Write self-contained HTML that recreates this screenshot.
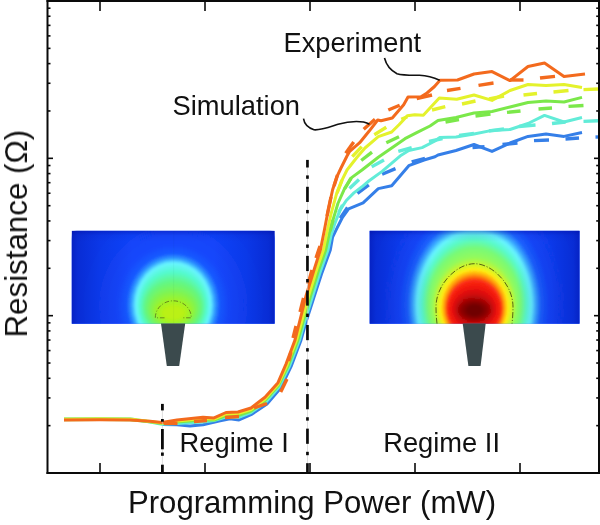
<!DOCTYPE html>
<html><head><meta charset="utf-8"><title>Resistance vs Programming Power</title>
<style>
html,body{margin:0;padding:0;background:#fff;}
body{width:600px;height:525px;overflow:hidden;font-family:"Liberation Sans",sans-serif;}
svg{display:block}
text{font-family:"Liberation Sans",sans-serif;fill:#111;}
</style></head><body>
<svg width="600" height="525" viewBox="0 0 600 525">
<defs>
<clipPath id="cl"><rect x="71.7" y="230.7" width="203" height="93.1"/></clipPath>
<clipPath id="cr"><rect x="369.6" y="230.7" width="210" height="93.1"/></clipPath>
<filter id="bl" x="-20%" y="-20%" width="140%" height="140%"><feGaussianBlur stdDeviation="1.1"/></filter>
<linearGradient id="ovh" x1="0" x2="1" y1="0" y2="0">
<stop offset="0" stop-color="#000a9a" stop-opacity="0.55"/><stop offset="0.03" stop-color="#000a9a" stop-opacity="0.36"/><stop offset="0.14" stop-color="#000a9a" stop-opacity="0.16"/><stop offset="0.3" stop-color="#000a9a" stop-opacity="0"/>
<stop offset="0.7" stop-color="#000a9a" stop-opacity="0"/><stop offset="0.86" stop-color="#000a9a" stop-opacity="0.16"/><stop offset="0.97" stop-color="#000a9a" stop-opacity="0.36"/><stop offset="1" stop-color="#000a9a" stop-opacity="0.55"/></linearGradient>
<linearGradient id="ovv" x1="0" x2="0" y1="0" y2="1">
<stop offset="0" stop-color="#000a9a" stop-opacity="0.4"/><stop offset="0.05" stop-color="#000a9a" stop-opacity="0.08"/><stop offset="0.12" stop-color="#000a9a" stop-opacity="0"/><stop offset="1" stop-color="#000a9a" stop-opacity="0"/></linearGradient>
</defs>
<rect width="600" height="525" fill="#fff"/>
<!-- insets -->
<g clip-path="url(#cl)"><rect x="71.7" y="230.7" width="203" height="93.1" fill="#1040f4"/>
<g filter="url(#bl)"><ellipse cx="173.30" cy="305.00" rx="120.00" ry="130.00" fill="#1040f4"/><ellipse cx="173.30" cy="305.00" rx="115.00" ry="124.50" fill="#1040f4"/><ellipse cx="173.30" cy="305.00" rx="110.00" ry="119.00" fill="#1040f5"/><ellipse cx="173.30" cy="305.00" rx="105.00" ry="113.50" fill="#1041f6"/><ellipse cx="173.30" cy="305.00" rx="100.00" ry="108.00" fill="#1041f6"/><ellipse cx="173.30" cy="305.00" rx="95.00" ry="102.50" fill="#1141f6"/><ellipse cx="173.30" cy="305.00" rx="90.00" ry="97.00" fill="#1142f7"/><ellipse cx="173.30" cy="305.00" rx="85.00" ry="91.50" fill="#1142f8"/><ellipse cx="173.30" cy="305.00" rx="80.00" ry="86.00" fill="#1142f8"/><ellipse cx="173.30" cy="305.00" rx="77.25" ry="83.00" fill="#1143f8"/><ellipse cx="173.30" cy="305.00" rx="74.50" ry="80.00" fill="#1244f9"/><ellipse cx="173.30" cy="305.00" rx="71.75" ry="77.00" fill="#1244fa"/><ellipse cx="173.30" cy="305.00" rx="69.00" ry="74.00" fill="#1245fa"/><ellipse cx="173.30" cy="305.00" rx="66.25" ry="71.00" fill="#1346fa"/><ellipse cx="173.30" cy="305.00" rx="63.50" ry="68.00" fill="#1346fb"/><ellipse cx="173.30" cy="305.00" rx="60.75" ry="65.00" fill="#1447fc"/><ellipse cx="173.30" cy="305.00" rx="58.00" ry="62.00" fill="#1448fc"/><ellipse cx="173.30" cy="305.00" rx="56.62" ry="60.75" fill="#154afc"/><ellipse cx="173.30" cy="305.00" rx="55.25" ry="59.50" fill="#164cfd"/><ellipse cx="173.30" cy="305.00" rx="53.88" ry="58.25" fill="#164ffd"/><ellipse cx="173.30" cy="305.00" rx="52.50" ry="57.00" fill="#1751fe"/><ellipse cx="173.30" cy="305.00" rx="51.12" ry="55.75" fill="#1853fe"/><ellipse cx="173.30" cy="305.00" rx="49.75" ry="54.50" fill="#1856fe"/><ellipse cx="173.30" cy="305.00" rx="48.38" ry="53.25" fill="#1958ff"/><ellipse cx="173.30" cy="305.00" rx="47.00" ry="52.00" fill="#1a5aff"/><ellipse cx="173.30" cy="305.00" rx="46.38" ry="51.31" fill="#1d63ff"/><ellipse cx="173.30" cy="305.00" rx="45.75" ry="50.62" fill="#206cff"/><ellipse cx="173.30" cy="305.00" rx="45.12" ry="49.94" fill="#2374ff"/><ellipse cx="173.30" cy="305.00" rx="44.50" ry="49.25" fill="#267dff"/><ellipse cx="173.30" cy="305.00" rx="43.88" ry="48.56" fill="#2986ff"/><ellipse cx="173.30" cy="305.00" rx="43.25" ry="47.88" fill="#2c8eff"/><ellipse cx="173.30" cy="305.00" rx="42.62" ry="47.19" fill="#2f97ff"/><ellipse cx="173.30" cy="305.00" rx="42.00" ry="46.50" fill="#32a0ff"/><ellipse cx="173.30" cy="305.00" rx="41.45" ry="45.98" fill="#39abff"/><ellipse cx="173.30" cy="305.00" rx="40.90" ry="45.45" fill="#40b5ff"/><ellipse cx="173.30" cy="305.00" rx="40.35" ry="44.92" fill="#47c0ff"/><ellipse cx="173.30" cy="305.00" rx="39.80" ry="44.40" fill="#4ecaff"/><ellipse cx="173.30" cy="305.00" rx="39.25" ry="43.88" fill="#54d5ff"/><ellipse cx="173.30" cy="305.00" rx="38.70" ry="43.35" fill="#5be0ff"/><ellipse cx="173.30" cy="305.00" rx="38.15" ry="42.82" fill="#62eaff"/><ellipse cx="173.30" cy="305.00" rx="37.60" ry="42.30" fill="#69f5ff"/><ellipse cx="173.30" cy="305.12" rx="37.09" ry="41.39" fill="#66f6f9"/><ellipse cx="173.30" cy="305.25" rx="36.58" ry="40.47" fill="#64f6f2"/><ellipse cx="173.30" cy="305.38" rx="36.06" ry="39.56" fill="#62f7ec"/><ellipse cx="173.30" cy="305.50" rx="35.55" ry="38.65" fill="#5ff8e6"/><ellipse cx="173.30" cy="305.62" rx="35.04" ry="37.74" fill="#5cf8e0"/><ellipse cx="173.30" cy="305.75" rx="34.52" ry="36.83" fill="#5af9da"/><ellipse cx="173.30" cy="305.88" rx="34.01" ry="35.91" fill="#58f9d3"/><ellipse cx="173.30" cy="306.00" rx="33.50" ry="35.00" fill="#55facd"/><ellipse cx="173.30" cy="306.19" rx="32.88" ry="33.88" fill="#57fac4"/><ellipse cx="173.30" cy="306.38" rx="32.25" ry="32.75" fill="#59f9ba"/><ellipse cx="173.30" cy="306.56" rx="31.62" ry="31.62" fill="#5bf9b1"/><ellipse cx="173.30" cy="306.75" rx="31.00" ry="30.50" fill="#5cf8a8"/><ellipse cx="173.30" cy="306.94" rx="30.38" ry="29.38" fill="#5ef89e"/><ellipse cx="173.30" cy="307.12" rx="29.75" ry="28.25" fill="#60f895"/><ellipse cx="173.30" cy="307.31" rx="29.12" ry="27.12" fill="#62f78b"/><ellipse cx="173.30" cy="307.50" rx="28.50" ry="26.00" fill="#64f782"/><ellipse cx="173.30" cy="307.75" rx="27.81" ry="25.00" fill="#68f77c"/><ellipse cx="173.30" cy="308.00" rx="27.12" ry="24.00" fill="#6bf676"/><ellipse cx="173.30" cy="308.25" rx="26.44" ry="23.00" fill="#6ef670"/><ellipse cx="173.30" cy="308.50" rx="25.75" ry="22.00" fill="#72f66a"/><ellipse cx="173.30" cy="308.75" rx="25.06" ry="21.00" fill="#76f564"/><ellipse cx="173.30" cy="309.00" rx="24.38" ry="20.00" fill="#79f55e"/><ellipse cx="173.30" cy="309.25" rx="23.69" ry="19.00" fill="#7cf458"/><ellipse cx="173.30" cy="309.50" rx="23.00" ry="18.00" fill="#80f452"/><ellipse cx="173.30" cy="309.75" rx="22.25" ry="17.19" fill="#84f44d"/><ellipse cx="173.30" cy="310.00" rx="21.50" ry="16.38" fill="#88f448"/><ellipse cx="173.30" cy="310.25" rx="20.75" ry="15.56" fill="#8cf442"/><ellipse cx="173.30" cy="310.50" rx="20.00" ry="14.75" fill="#90f43d"/><ellipse cx="173.30" cy="310.75" rx="19.25" ry="13.94" fill="#94f338"/><ellipse cx="173.30" cy="311.00" rx="18.50" ry="13.12" fill="#98f332"/><ellipse cx="173.30" cy="311.25" rx="17.75" ry="12.31" fill="#9cf32d"/><ellipse cx="173.30" cy="311.50" rx="17.00" ry="11.50" fill="#a0f328"/><ellipse cx="173.30" cy="311.69" rx="16.12" ry="10.81" fill="#a3f326"/><ellipse cx="173.30" cy="311.88" rx="15.25" ry="10.12" fill="#a6f224"/><ellipse cx="173.30" cy="312.06" rx="14.38" ry="9.44" fill="#aaf221"/><ellipse cx="173.30" cy="312.25" rx="13.50" ry="8.75" fill="#adf21f"/><ellipse cx="173.30" cy="312.44" rx="12.62" ry="8.06" fill="#b0f21d"/><ellipse cx="173.30" cy="312.62" rx="11.75" ry="7.38" fill="#b4f21a"/><ellipse cx="173.30" cy="312.81" rx="10.88" ry="6.69" fill="#b7f118"/><ellipse cx="173.30" cy="313.00" rx="10.00" ry="6.00" fill="#baf116"/></g>
<rect x="71.7" y="230.7" width="203" height="93.1" fill="url(#ovh)"/><rect x="71.7" y="230.7" width="203" height="93.1" fill="url(#ovv)"/>
<line x1="173.6" x2="173.6" y1="230.7" y2="323.8" stroke="#204060" stroke-opacity="0.08" stroke-width="0.6"/>
<path d="M164.5 317.8 L155.3 317.8 A18 17 0 0 1 191.3 317.8 L182 317.8" fill="none" stroke="#56661a" stroke-width="0.75" stroke-dasharray="4.6 1.8 1 1.8"/>
</g>
<g clip-path="url(#cr)"><rect x="369.6" y="230.7" width="210" height="93.1" fill="#1040f4"/>
<g filter="url(#bl)"><ellipse cx="474.30" cy="305.00" rx="140.00" ry="170.00" fill="#1040f4"/><ellipse cx="474.30" cy="305.00" rx="134.38" ry="163.75" fill="#1040f4"/><ellipse cx="474.30" cy="305.00" rx="128.75" ry="157.50" fill="#1040f5"/><ellipse cx="474.30" cy="305.00" rx="123.12" ry="151.25" fill="#1041f6"/><ellipse cx="474.30" cy="305.00" rx="117.50" ry="145.00" fill="#1041f6"/><ellipse cx="474.30" cy="305.00" rx="111.88" ry="138.75" fill="#1141f6"/><ellipse cx="474.30" cy="305.00" rx="106.25" ry="132.50" fill="#1142f7"/><ellipse cx="474.30" cy="305.00" rx="100.62" ry="126.25" fill="#1142f8"/><ellipse cx="474.30" cy="305.00" rx="95.00" ry="120.00" fill="#1142f8"/><ellipse cx="474.30" cy="305.00" rx="92.62" ry="117.50" fill="#1143f9"/><ellipse cx="474.30" cy="305.00" rx="90.25" ry="115.00" fill="#1244f9"/><ellipse cx="474.30" cy="305.00" rx="87.88" ry="112.50" fill="#1245fa"/><ellipse cx="474.30" cy="305.00" rx="85.50" ry="110.00" fill="#1246fa"/><ellipse cx="474.30" cy="305.00" rx="83.12" ry="107.50" fill="#1347fb"/><ellipse cx="474.30" cy="305.00" rx="80.75" ry="105.00" fill="#1348fc"/><ellipse cx="474.30" cy="305.00" rx="78.38" ry="102.50" fill="#1449fc"/><ellipse cx="474.30" cy="305.00" rx="76.00" ry="100.00" fill="#144afd"/><ellipse cx="474.30" cy="305.00" rx="74.88" ry="98.38" fill="#154dfd"/><ellipse cx="474.30" cy="305.00" rx="73.75" ry="96.75" fill="#1650fe"/><ellipse cx="474.30" cy="305.00" rx="72.62" ry="95.12" fill="#1854fe"/><ellipse cx="474.30" cy="305.00" rx="71.50" ry="93.50" fill="#1957fe"/><ellipse cx="474.30" cy="305.00" rx="70.38" ry="91.88" fill="#1a5afe"/><ellipse cx="474.30" cy="305.00" rx="69.25" ry="90.25" fill="#1c5efe"/><ellipse cx="474.30" cy="305.00" rx="68.12" ry="88.62" fill="#1d61ff"/><ellipse cx="474.30" cy="305.00" rx="67.00" ry="87.00" fill="#1e64ff"/><ellipse cx="474.30" cy="305.00" rx="66.38" ry="86.12" fill="#226dff"/><ellipse cx="474.30" cy="305.00" rx="65.75" ry="85.25" fill="#2676ff"/><ellipse cx="474.30" cy="305.00" rx="65.12" ry="84.38" fill="#297eff"/><ellipse cx="474.30" cy="305.00" rx="64.50" ry="83.50" fill="#2d87ff"/><ellipse cx="474.30" cy="305.00" rx="63.88" ry="82.62" fill="#3190ff"/><ellipse cx="474.30" cy="305.00" rx="63.25" ry="81.75" fill="#3498ff"/><ellipse cx="474.30" cy="305.00" rx="62.62" ry="80.88" fill="#38a1ff"/><ellipse cx="474.30" cy="305.00" rx="62.00" ry="80.00" fill="#3caaff"/><ellipse cx="474.30" cy="305.00" rx="61.44" ry="79.25" fill="#42b3ff"/><ellipse cx="474.30" cy="305.00" rx="60.88" ry="78.50" fill="#47bdff"/><ellipse cx="474.30" cy="305.00" rx="60.31" ry="77.75" fill="#4dc6ff"/><ellipse cx="474.30" cy="305.00" rx="59.75" ry="77.00" fill="#52d0ff"/><ellipse cx="474.30" cy="305.00" rx="59.19" ry="76.25" fill="#58d9ff"/><ellipse cx="474.30" cy="305.00" rx="58.62" ry="75.50" fill="#5ee2ff"/><ellipse cx="474.30" cy="305.00" rx="58.06" ry="74.75" fill="#63ecff"/><ellipse cx="474.30" cy="305.00" rx="57.50" ry="74.00" fill="#69f5ff"/><ellipse cx="474.30" cy="305.00" rx="56.88" ry="73.00" fill="#67f6f8"/><ellipse cx="474.30" cy="305.00" rx="56.25" ry="72.00" fill="#65f6f1"/><ellipse cx="474.30" cy="305.00" rx="55.62" ry="71.00" fill="#63f7ea"/><ellipse cx="474.30" cy="305.00" rx="55.00" ry="70.00" fill="#62f8e4"/><ellipse cx="474.30" cy="305.00" rx="54.38" ry="69.00" fill="#60f8dd"/><ellipse cx="474.30" cy="305.00" rx="53.75" ry="68.00" fill="#5ef9d6"/><ellipse cx="474.30" cy="305.00" rx="53.12" ry="67.00" fill="#5cf9cf"/><ellipse cx="474.30" cy="305.00" rx="52.50" ry="66.00" fill="#5afac8"/><ellipse cx="474.30" cy="305.00" rx="51.81" ry="64.94" fill="#5efabe"/><ellipse cx="474.30" cy="305.00" rx="51.12" ry="63.88" fill="#62fab4"/><ellipse cx="474.30" cy="305.00" rx="50.44" ry="62.81" fill="#65faaa"/><ellipse cx="474.30" cy="305.00" rx="49.75" ry="61.75" fill="#69faa0"/><ellipse cx="474.30" cy="305.00" rx="49.06" ry="60.69" fill="#6dfa96"/><ellipse cx="474.30" cy="305.00" rx="48.38" ry="59.62" fill="#70fa8c"/><ellipse cx="474.30" cy="305.00" rx="47.69" ry="58.56" fill="#74fa82"/><ellipse cx="474.30" cy="305.00" rx="47.00" ry="57.50" fill="#78fa78"/><ellipse cx="474.30" cy="305.06" rx="46.38" ry="56.31" fill="#7cfa74"/><ellipse cx="474.30" cy="305.12" rx="45.75" ry="55.12" fill="#80fa70"/><ellipse cx="474.30" cy="305.19" rx="45.12" ry="53.94" fill="#83fa6d"/><ellipse cx="474.30" cy="305.25" rx="44.50" ry="52.75" fill="#87fa69"/><ellipse cx="474.30" cy="305.31" rx="43.88" ry="51.56" fill="#8bfa65"/><ellipse cx="474.30" cy="305.38" rx="43.25" ry="50.38" fill="#8efa62"/><ellipse cx="474.30" cy="305.44" rx="42.62" ry="49.19" fill="#92fa5e"/><ellipse cx="474.30" cy="305.50" rx="42.00" ry="48.00" fill="#96fa5a"/><ellipse cx="474.30" cy="305.56" rx="41.56" ry="47.29" fill="#9cf955"/><ellipse cx="474.30" cy="305.62" rx="41.12" ry="46.58" fill="#a2f950"/><ellipse cx="474.30" cy="305.69" rx="40.69" ry="45.86" fill="#a9f84b"/><ellipse cx="474.30" cy="305.75" rx="40.25" ry="45.15" fill="#aff846"/><ellipse cx="474.30" cy="305.81" rx="39.81" ry="44.44" fill="#b5f741"/><ellipse cx="474.30" cy="305.88" rx="39.38" ry="43.72" fill="#bcf63c"/><ellipse cx="474.30" cy="305.94" rx="38.94" ry="43.01" fill="#c2f637"/><ellipse cx="474.30" cy="306.00" rx="38.50" ry="42.30" fill="#c8f532"/><ellipse cx="474.30" cy="306.12" rx="37.94" ry="41.76" fill="#cff42e"/><ellipse cx="474.30" cy="306.25" rx="37.38" ry="41.22" fill="#d6f42a"/><ellipse cx="474.30" cy="306.38" rx="36.81" ry="40.69" fill="#ddf327"/><ellipse cx="474.30" cy="306.50" rx="36.25" ry="40.15" fill="#e4f223"/><ellipse cx="474.30" cy="306.62" rx="35.69" ry="39.61" fill="#eaf21f"/><ellipse cx="474.30" cy="306.75" rx="35.12" ry="39.08" fill="#f1f11c"/><ellipse cx="474.30" cy="306.88" rx="34.56" ry="38.54" fill="#f8f118"/><ellipse cx="474.30" cy="307.00" rx="34.00" ry="38.00" fill="#fff014"/><ellipse cx="474.30" cy="307.12" rx="33.50" ry="37.44" fill="#ffe513"/><ellipse cx="474.30" cy="307.25" rx="33.00" ry="36.88" fill="#ffda13"/><ellipse cx="474.30" cy="307.38" rx="32.50" ry="36.31" fill="#ffce12"/><ellipse cx="474.30" cy="307.50" rx="32.00" ry="35.75" fill="#ffc312"/><ellipse cx="474.30" cy="307.62" rx="31.50" ry="35.19" fill="#ffb811"/><ellipse cx="474.30" cy="307.75" rx="31.00" ry="34.62" fill="#ffac10"/><ellipse cx="474.30" cy="307.88" rx="30.50" ry="34.06" fill="#ffa110"/><ellipse cx="474.30" cy="308.00" rx="30.00" ry="33.50" fill="#ff960f"/><ellipse cx="474.30" cy="308.06" rx="29.62" ry="32.88" fill="#ff8910"/><ellipse cx="474.30" cy="308.12" rx="29.25" ry="32.25" fill="#fe7c10"/><ellipse cx="474.30" cy="308.19" rx="28.88" ry="31.62" fill="#fe6f11"/><ellipse cx="474.30" cy="308.25" rx="28.50" ry="31.00" fill="#fe6212"/><ellipse cx="474.30" cy="308.31" rx="28.12" ry="30.38" fill="#fd5412"/><ellipse cx="474.30" cy="308.38" rx="27.75" ry="29.75" fill="#fd4713"/><ellipse cx="474.30" cy="308.44" rx="27.38" ry="29.12" fill="#fc3a13"/><ellipse cx="474.30" cy="308.50" rx="27.00" ry="28.50" fill="#fc2d14"/><ellipse cx="474.30" cy="308.56" rx="26.56" ry="27.75" fill="#fa2a13"/><ellipse cx="474.30" cy="308.62" rx="26.12" ry="27.00" fill="#f92713"/><ellipse cx="474.30" cy="308.69" rx="25.69" ry="26.25" fill="#f82412"/><ellipse cx="474.30" cy="308.75" rx="25.25" ry="25.50" fill="#f62212"/><ellipse cx="474.30" cy="308.81" rx="24.81" ry="24.75" fill="#f41f11"/><ellipse cx="474.30" cy="308.88" rx="24.38" ry="24.00" fill="#f31c10"/><ellipse cx="474.30" cy="308.94" rx="23.94" ry="23.25" fill="#f21910"/><ellipse cx="474.30" cy="309.00" rx="23.50" ry="22.50" fill="#f0160f"/><ellipse cx="474.30" cy="309.06" rx="22.94" ry="21.56" fill="#ec140e"/><ellipse cx="474.30" cy="309.12" rx="22.38" ry="20.62" fill="#e7130e"/><ellipse cx="474.30" cy="309.19" rx="21.81" ry="19.69" fill="#e3120d"/><ellipse cx="474.30" cy="309.25" rx="21.25" ry="18.75" fill="#de100c"/><ellipse cx="474.30" cy="309.31" rx="20.69" ry="17.81" fill="#da0e0c"/><ellipse cx="474.30" cy="309.38" rx="20.12" ry="16.88" fill="#d60d0b"/><ellipse cx="474.30" cy="309.44" rx="19.56" ry="15.94" fill="#d10c0b"/><ellipse cx="474.30" cy="309.50" rx="19.00" ry="15.00" fill="#cd0a0a"/><ellipse cx="474.30" cy="309.56" rx="18.44" ry="14.31" fill="#c60909"/><ellipse cx="474.30" cy="309.62" rx="17.88" ry="13.62" fill="#bf0909"/><ellipse cx="474.30" cy="309.69" rx="17.31" ry="12.94" fill="#b80808"/><ellipse cx="474.30" cy="309.75" rx="16.75" ry="12.25" fill="#b20808"/><ellipse cx="474.30" cy="309.81" rx="16.19" ry="11.56" fill="#ab0707"/><ellipse cx="474.30" cy="309.88" rx="15.62" ry="10.88" fill="#a40606"/><ellipse cx="474.30" cy="309.94" rx="15.06" ry="10.19" fill="#9d0606"/><ellipse cx="474.30" cy="310.00" rx="14.50" ry="9.50" fill="#960505"/><ellipse cx="474.30" cy="310.04" rx="13.56" ry="8.94" fill="#910404"/><ellipse cx="474.30" cy="310.07" rx="12.62" ry="8.38" fill="#8c0404"/><ellipse cx="474.30" cy="310.11" rx="11.69" ry="7.81" fill="#880303"/><ellipse cx="474.30" cy="310.15" rx="10.75" ry="7.25" fill="#830202"/><ellipse cx="474.30" cy="310.19" rx="9.81" ry="6.69" fill="#7e0202"/><ellipse cx="474.30" cy="310.23" rx="8.88" ry="6.12" fill="#7a0101"/><ellipse cx="474.30" cy="310.26" rx="7.94" ry="5.56" fill="#750101"/><ellipse cx="474.30" cy="310.30" rx="7.00" ry="5.00" fill="#700000"/></g>
<rect x="369.6" y="230.7" width="210" height="93.1" fill="url(#ovh)"/><rect x="369.6" y="230.7" width="210" height="93.1" fill="url(#ovv)"/>
<path d="M437 323.8 C436.3 318 436 312 436 307 C436 284 457 263.7 474.5 263.7 C492 263.7 513 284 513 307 C513 312 512.7 318 512 323.8" fill="none" stroke="#4a5210" stroke-width="0.9" stroke-dasharray="6 1.8 1 1.8"/>
</g>
<polygon points="161,323.6 185.2,323.6 179.2,365.9 166.8,365.9" fill="#3b4a4d"/>
<polygon points="462.7,323.6 485.7,323.6 480.6,365.9 468.4,365.9" fill="#3b4a4d"/>
<!-- curves -->
<polyline points="162.0,424.5 177.0,424.8 190.0,426.0 203.0,424.8 219.0,421.0 230.0,418.7 239.0,420.0 251.0,414.7 267.0,404.0 280.7,388.0 291.0,366.7 300.7,341.0 306.0,322.0 313.7,298.0 321.5,274.0 330.3,250.0 332.6,237.1 337.1,227.9 342.5,217.3 348.6,208.9 363.1,202.9 378.3,188.6 391.7,185.7 408.8,165.7 424.0,160.0 435.0,156.8 438.0,155.0 456.0,150.5 474.0,144.5 492.0,151.4 510.0,143.0 528.0,136.4 546.0,134.0 564.0,136.4 582.0,132.5" fill="none" stroke="#357fe8" stroke-width="3" stroke-linejoin="round" stroke-linecap="butt"/>
<line x1="340.2" y1="218.1" x2="347.5" y2="207.5" stroke="#357fe8" stroke-width="3.4"/>
<line x1="357.4" y1="193.3" x2="368.8" y2="184.8" stroke="#357fe8" stroke-width="3.4"/>
<line x1="382.1" y1="174.3" x2="395.5" y2="168.6" stroke="#357fe8" stroke-width="3.4"/>
<line x1="411.7" y1="161.9" x2="425.0" y2="158.5" stroke="#357fe8" stroke-width="3.4"/>
<line x1="472.5" y1="147.5" x2="484.5" y2="146.6" stroke="#357fe8" stroke-width="3.4"/>
<line x1="502.5" y1="144.5" x2="517.5" y2="143.0" stroke="#357fe8" stroke-width="3.4"/>
<line x1="534.0" y1="140.6" x2="549.0" y2="140.0" stroke="#357fe8" stroke-width="3.4"/>
<line x1="565.5" y1="139.0" x2="579.0" y2="138.0" stroke="#357fe8" stroke-width="3.4"/>
<line x1="595.5" y1="137.0" x2="598.0" y2="137.0" stroke="#357fe8" stroke-width="3.4"/>
<polyline points="64.0,418.8 100.0,418.6 130.0,418.8 150.0,422.0 162.0,424.3 177.0,423.5 203.0,422.0 214.0,420.5 226.0,417.0 238.0,417.5 251.0,412.5 266.0,402.0 279.0,387.0 289.5,366.0 299.5,340.0 304.5,322.0 312.0,298.0 319.5,274.0 328.0,250.0 331.0,235.5 334.9,223.4 340.2,209.6 346.3,200.5 353.9,192.9 362.0,186.8 368.8,181.0 382.1,171.4 401.2,155.2 408.8,150.5 422.1,147.6 435.0,141.0 439.5,137.6 456.0,137.0 474.0,134.0 492.0,130.4 510.0,129.5 528.0,123.5 544.5,115.4 564.0,122.0 582.0,117.5" fill="none" stroke="#62ecd8" stroke-width="3" stroke-linejoin="round" stroke-linecap="butt"/>
<line x1="338.7" y1="212.7" x2="342.5" y2="205.0" stroke="#62ecd8" stroke-width="3.4"/>
<line x1="349.5" y1="188.6" x2="359.0" y2="179.5" stroke="#62ecd8" stroke-width="3.4"/>
<line x1="371.7" y1="166.7" x2="384.0" y2="160.0" stroke="#62ecd8" stroke-width="3.4"/>
<line x1="398.3" y1="151.4" x2="411.7" y2="147.6" stroke="#62ecd8" stroke-width="3.4"/>
<line x1="429.0" y1="141.5" x2="442.5" y2="138.5" stroke="#62ecd8" stroke-width="3.4"/>
<line x1="459.0" y1="135.5" x2="474.0" y2="133.4" stroke="#62ecd8" stroke-width="3.4"/>
<line x1="489.0" y1="131.0" x2="504.0" y2="129.0" stroke="#62ecd8" stroke-width="3.4"/>
<line x1="519.0" y1="126.5" x2="535.5" y2="125.0" stroke="#62ecd8" stroke-width="3.4"/>
<line x1="552.0" y1="123.5" x2="565.5" y2="122.0" stroke="#62ecd8" stroke-width="3.4"/>
<line x1="583.5" y1="121.4" x2="598.0" y2="120.8" stroke="#62ecd8" stroke-width="3.4"/>
<polyline points="64.0,419.8 100.0,419.6 130.0,419.8 150.0,421.8 162.0,423.5 177.0,422.0 203.0,420.0 214.0,420.0 226.0,415.5 238.0,415.5 251.0,411.0 265.0,400.5 278.0,386.0 288.0,366.0 298.0,340.0 303.0,322.0 310.5,296.0 318.0,272.0 325.7,250.0 329.5,232.5 333.3,218.8 337.9,203.5 344.0,189.8 351.6,177.6 362.0,170.0 378.3,157.3 391.7,148.0 405.0,138.7 416.7,132.7 430.0,126.0 438.0,120.5 456.0,117.5 474.0,113.0 492.0,111.5 510.0,107.0 528.0,102.5 546.0,101.0 564.0,102.0 582.0,97.4" fill="none" stroke="#7be84a" stroke-width="3" stroke-linejoin="round" stroke-linecap="butt"/>
<line x1="344.5" y1="189.0" x2="351.0" y2="178.0" stroke="#7be84a" stroke-width="3.4"/>
<line x1="330.0" y1="231.0" x2="333.0" y2="220.0" stroke="#7be84a" stroke-width="3.4"/>
<line x1="361.2" y1="160.5" x2="372.0" y2="152.2" stroke="#7be84a" stroke-width="3.4"/>
<line x1="386.3" y1="142.7" x2="399.0" y2="136.7" stroke="#7be84a" stroke-width="3.4"/>
<line x1="445.5" y1="122.0" x2="459.0" y2="119.6" stroke="#7be84a" stroke-width="3.4"/>
<line x1="475.5" y1="116.0" x2="490.5" y2="114.0" stroke="#7be84a" stroke-width="3.4"/>
<line x1="507.0" y1="112.4" x2="520.5" y2="111.0" stroke="#7be84a" stroke-width="3.4"/>
<line x1="538.5" y1="109.0" x2="552.0" y2="108.0" stroke="#7be84a" stroke-width="3.4"/>
<line x1="568.5" y1="106.4" x2="583.5" y2="105.5" stroke="#7be84a" stroke-width="3.4"/>
<polyline points="64.0,419.0 100.0,418.8 130.0,419.0 150.0,421.5 162.0,423.0 177.0,421.0 203.0,418.5 214.0,419.0 226.0,414.0 238.0,413.5 251.0,409.5 265.0,399.0 278.0,384.5 287.0,365.0 296.5,340.0 301.5,322.0 308.5,296.0 316.5,270.0 323.4,250.0 327.2,231.0 331.0,214.2 336.4,194.4 342.5,179.1 347.0,170.0 357.0,157.3 365.0,148.0 378.3,136.7 391.7,132.0 399.0,124.7 403.0,120.5 407.3,115.8 414.7,114.7 423.3,115.3 430.0,108.0 439.3,98.0 456.7,99.3 474.0,95.0 492.0,100.4 510.0,90.5 528.0,84.5 546.0,85.4 564.0,84.5 582.0,87.5" fill="none" stroke="#e4f22c" stroke-width="3" stroke-linejoin="round" stroke-linecap="butt"/>
<line x1="337.0" y1="193.0" x2="342.0" y2="180.0" stroke="#e4f22c" stroke-width="3.4"/>
<line x1="352.3" y1="156.7" x2="361.7" y2="146.7" stroke="#e4f22c" stroke-width="3.4"/>
<line x1="374.3" y1="134.7" x2="386.3" y2="127.3" stroke="#e4f22c" stroke-width="3.4"/>
<line x1="401.3" y1="119.3" x2="407.3" y2="116.7" stroke="#e4f22c" stroke-width="3.4"/>
<line x1="432.0" y1="110.0" x2="445.3" y2="106.7" stroke="#e4f22c" stroke-width="3.4"/>
<line x1="462.0" y1="104.0" x2="475.5" y2="101.0" stroke="#e4f22c" stroke-width="3.4"/>
<line x1="489.0" y1="99.0" x2="504.0" y2="96.0" stroke="#e4f22c" stroke-width="3.4"/>
<line x1="523.5" y1="95.0" x2="537.0" y2="93.5" stroke="#e4f22c" stroke-width="3.4"/>
<line x1="553.5" y1="92.0" x2="568.5" y2="90.5" stroke="#e4f22c" stroke-width="3.4"/>
<line x1="583.5" y1="89.6" x2="598.0" y2="89.0" stroke="#e4f22c" stroke-width="3.4"/>
<polyline points="64.0,419.9 100.0,419.7 130.0,419.9 150.0,421.3 162.0,422.5 177.0,420.0 203.0,417.3 214.0,417.9 226.0,412.5 238.0,412.0 251.0,408.0 265.0,397.3 278.0,382.7 286.0,364.0 295.0,340.0 299.5,322.0 306.0,296.0 314.0,270.0 320.4,250.0 324.2,231.0 328.0,211.2 332.6,189.8 337.2,176.1 341.0,168.0 347.0,156.0 349.7,151.3 359.7,142.7 369.0,131.3 377.7,120.0 381.0,120.7 392.3,118.0 403.7,104.7 408.0,97.0 421.0,96.7 427.0,93.0 434.5,86.5 440.0,80.2 457.5,80.0 474.0,74.0 492.0,71.6 510.0,80.6 528.0,66.5 544.5,63.0 564.0,76.4 585.0,74.0" fill="none" stroke="#f36a1d" stroke-width="3" stroke-linejoin="round" stroke-linecap="butt"/>
<line x1="164.0" y1="423.4" x2="177.5" y2="423.4" stroke="#f36a1d" stroke-width="3.4"/>
<line x1="194.0" y1="421.5" x2="207.0" y2="420.5" stroke="#f36a1d" stroke-width="3.4"/>
<line x1="225.0" y1="417.5" x2="239.0" y2="416.5" stroke="#f36a1d" stroke-width="3.4"/>
<line x1="254.0" y1="408.0" x2="267.0" y2="403.5" stroke="#f36a1d" stroke-width="3.4"/>
<line x1="280.7" y1="392.0" x2="287.0" y2="379.0" stroke="#f36a1d" stroke-width="3.4"/>
<line x1="288.7" y1="361.0" x2="291.0" y2="352.0" stroke="#f36a1d" stroke-width="3.4"/>
<line x1="293.0" y1="338.0" x2="296.0" y2="326.0" stroke="#f36a1d" stroke-width="3.4"/>
<line x1="300.0" y1="312.0" x2="303.5" y2="298.0" stroke="#f36a1d" stroke-width="3.4"/>
<line x1="308.0" y1="284.0" x2="312.0" y2="270.0" stroke="#f36a1d" stroke-width="3.4"/>
<line x1="316.0" y1="258.0" x2="320.0" y2="246.0" stroke="#f36a1d" stroke-width="3.4"/>
<line x1="327.0" y1="216.0" x2="331.0" y2="197.0" stroke="#f36a1d" stroke-width="3.4"/>
<line x1="334.0" y1="186.0" x2="337.5" y2="175.0" stroke="#f36a1d" stroke-width="3.4"/>
<line x1="345.7" y1="153.3" x2="353.7" y2="142.0" stroke="#f36a1d" stroke-width="3.4"/>
<line x1="363.7" y1="129.3" x2="375.0" y2="119.3" stroke="#f36a1d" stroke-width="3.4"/>
<line x1="388.3" y1="110.0" x2="399.7" y2="105.3" stroke="#f36a1d" stroke-width="3.4"/>
<line x1="416.7" y1="98.7" x2="432.0" y2="95.0" stroke="#f36a1d" stroke-width="3.4"/>
<line x1="447.0" y1="90.5" x2="460.5" y2="88.4" stroke="#f36a1d" stroke-width="3.4"/>
<line x1="478.5" y1="85.4" x2="493.5" y2="83.0" stroke="#f36a1d" stroke-width="3.4"/>
<line x1="510.0" y1="80.0" x2="523.5" y2="80.0" stroke="#f36a1d" stroke-width="3.4"/>
<line x1="540.0" y1="78.0" x2="555.0" y2="76.4" stroke="#f36a1d" stroke-width="3.4"/>

<!-- vertical dash-dot lines -->
<line x1="307.5" x2="307.5" y1="159.9" y2="473" stroke="#c8c8c8" stroke-width="0.6"/>
<g fill="#0a0a0a"><rect x="306.1" y="159.90" width="2.7" height="7.60"/><rect x="306.1" y="175.40" width="2.7" height="3.40"/><rect x="306.1" y="186.78" width="2.7" height="15.20"/><rect x="306.1" y="209.95" width="2.7" height="3.40"/><rect x="306.1" y="221.32" width="2.7" height="15.20"/><rect x="306.1" y="244.50" width="2.7" height="3.40"/><rect x="306.1" y="255.87" width="2.7" height="15.20"/><rect x="306.1" y="279.05" width="2.7" height="3.40"/><rect x="306.1" y="290.43" width="2.7" height="15.20"/><rect x="306.1" y="313.60" width="2.7" height="3.40"/><rect x="306.1" y="324.98" width="2.7" height="15.20"/><rect x="306.1" y="348.15" width="2.7" height="3.40"/><rect x="306.1" y="359.53" width="2.7" height="15.20"/><rect x="306.1" y="382.70" width="2.7" height="3.40"/><rect x="306.1" y="394.08" width="2.7" height="15.20"/><rect x="306.1" y="417.25" width="2.7" height="3.40"/><rect x="306.1" y="428.63" width="2.7" height="15.20"/><rect x="306.1" y="451.80" width="2.7" height="3.40"/><rect x="306.1" y="463.18" width="2.7" height="9.32"/></g>
<line x1="162.4" x2="162.4" y1="403.9" y2="473" stroke="#c8c8c8" stroke-width="0.6"/>
<g fill="#0a0a0a"><rect x="161" y="403.9" width="2.8" height="6.5"/><rect x="161" y="419" width="2.8" height="2.7"/><rect x="161" y="429" width="2.8" height="20.3"/><rect x="161" y="452.5" width="2.8" height="3.3"/><rect x="161" y="464.7" width="2.8" height="8"/></g>
<!-- leaders -->
<path d="M384.5 58 C386 64 389 69.5 397 73.7 C403 75.5 412 75.2 419.5 75.2 C426 75.4 433 77 439.7 80.2" fill="none" stroke="#111" stroke-width="1.6"/>
<path d="M303.5 118.7 C304 122 305.5 127 314 129.8 C320 130.5 328 127.5 338 124.3 C346 122 355 120.8 363.5 122 C366 122.6 368 123.4 369.5 124.3" fill="none" stroke="#111" stroke-width="1.6"/>
<!-- axes -->
<g stroke="#0a0a0a" stroke-width="1.6" fill="none"><line x1="47.5" x2="50.5" y1="110.97" y2="110.97"/><line x1="599" x2="596.2" y1="110.97" y2="110.97"/><line x1="47.5" x2="50.5" y1="83.27" y2="83.27"/><line x1="599" x2="596.2" y1="83.27" y2="83.27"/><line x1="47.5" x2="50.5" y1="63.61" y2="63.61"/><line x1="599" x2="596.2" y1="63.61" y2="63.61"/><line x1="47.5" x2="50.5" y1="48.36" y2="48.36"/><line x1="599" x2="596.2" y1="48.36" y2="48.36"/><line x1="47.5" x2="50.5" y1="35.90" y2="35.90"/><line x1="599" x2="596.2" y1="35.90" y2="35.90"/><line x1="47.5" x2="50.5" y1="25.37" y2="25.37"/><line x1="599" x2="596.2" y1="25.37" y2="25.37"/><line x1="47.5" x2="50.5" y1="16.25" y2="16.25"/><line x1="599" x2="596.2" y1="16.25" y2="16.25"/><line x1="47.5" x2="50.5" y1="8.20" y2="8.20"/><line x1="599" x2="596.2" y1="8.20" y2="8.20"/><line x1="47.5" x2="50.5" y1="268.30" y2="268.30"/><line x1="599" x2="596.2" y1="268.30" y2="268.30"/><line x1="47.5" x2="50.5" y1="240.60" y2="240.60"/><line x1="599" x2="596.2" y1="240.60" y2="240.60"/><line x1="47.5" x2="50.5" y1="220.94" y2="220.94"/><line x1="599" x2="596.2" y1="220.94" y2="220.94"/><line x1="47.5" x2="50.5" y1="205.70" y2="205.70"/><line x1="599" x2="596.2" y1="205.70" y2="205.70"/><line x1="47.5" x2="50.5" y1="193.24" y2="193.24"/><line x1="599" x2="596.2" y1="193.24" y2="193.24"/><line x1="47.5" x2="50.5" y1="182.70" y2="182.70"/><line x1="599" x2="596.2" y1="182.70" y2="182.70"/><line x1="47.5" x2="50.5" y1="173.58" y2="173.58"/><line x1="599" x2="596.2" y1="173.58" y2="173.58"/><line x1="47.5" x2="50.5" y1="165.53" y2="165.53"/><line x1="599" x2="596.2" y1="165.53" y2="165.53"/><line x1="47.5" x2="53" y1="158.33" y2="158.33"/><line x1="599" x2="594" y1="158.33" y2="158.33"/><line x1="47.5" x2="50.5" y1="425.64" y2="425.64"/><line x1="599" x2="596.2" y1="425.64" y2="425.64"/><line x1="47.5" x2="50.5" y1="397.93" y2="397.93"/><line x1="599" x2="596.2" y1="397.93" y2="397.93"/><line x1="47.5" x2="50.5" y1="378.28" y2="378.28"/><line x1="599" x2="596.2" y1="378.28" y2="378.28"/><line x1="47.5" x2="50.5" y1="363.03" y2="363.03"/><line x1="599" x2="596.2" y1="363.03" y2="363.03"/><line x1="47.5" x2="50.5" y1="350.57" y2="350.57"/><line x1="599" x2="596.2" y1="350.57" y2="350.57"/><line x1="47.5" x2="50.5" y1="340.04" y2="340.04"/><line x1="599" x2="596.2" y1="340.04" y2="340.04"/><line x1="47.5" x2="50.5" y1="330.91" y2="330.91"/><line x1="599" x2="596.2" y1="330.91" y2="330.91"/><line x1="47.5" x2="50.5" y1="322.87" y2="322.87"/><line x1="599" x2="596.2" y1="322.87" y2="322.87"/><line x1="47.5" x2="53" y1="315.67" y2="315.67"/><line x1="599" x2="594" y1="315.67" y2="315.67"/><line x1="100" x2="100" y1="473" y2="463"/><line x1="100" x2="100" y1="1" y2="11"/><line x1="205" x2="205" y1="473" y2="463"/><line x1="205" x2="205" y1="1" y2="11"/><line x1="310" x2="310" y1="473" y2="463"/><line x1="310" x2="310" y1="1" y2="11"/><line x1="415" x2="415" y1="473" y2="463"/><line x1="415" x2="415" y1="1" y2="11"/><line x1="520" x2="520" y1="473" y2="463"/><line x1="520" x2="520" y1="1" y2="11"/></g>
<g stroke="#0a0a0a" stroke-width="2" fill="none">
<line x1="47.5" x2="47.5" y1="0" y2="474"/><line x1="46.5" x2="600" y1="1" y2="1"/><line x1="46.5" x2="600" y1="473" y2="473"/><line x1="599" x2="599" y1="0" y2="474"/>
</g>
<!-- labels --><g style="opacity:0.999">
<text x="283.6" y="52.3" font-size="27.2">Experiment</text>
<text x="172.6" y="115.1" font-size="27.3">Simulation</text>
<text x="179.6" y="452.4" font-size="27.3">Regime I</text>
<text x="383.2" y="452.4" font-size="27.3">Regime II</text>
<text x="128" y="513" font-size="31.1">Programming Power (mW)</text>
<text transform="translate(27 337.5) rotate(-90)" font-size="31.3">Resistance (&#937;)</text></g>
</svg>
</body></html>
